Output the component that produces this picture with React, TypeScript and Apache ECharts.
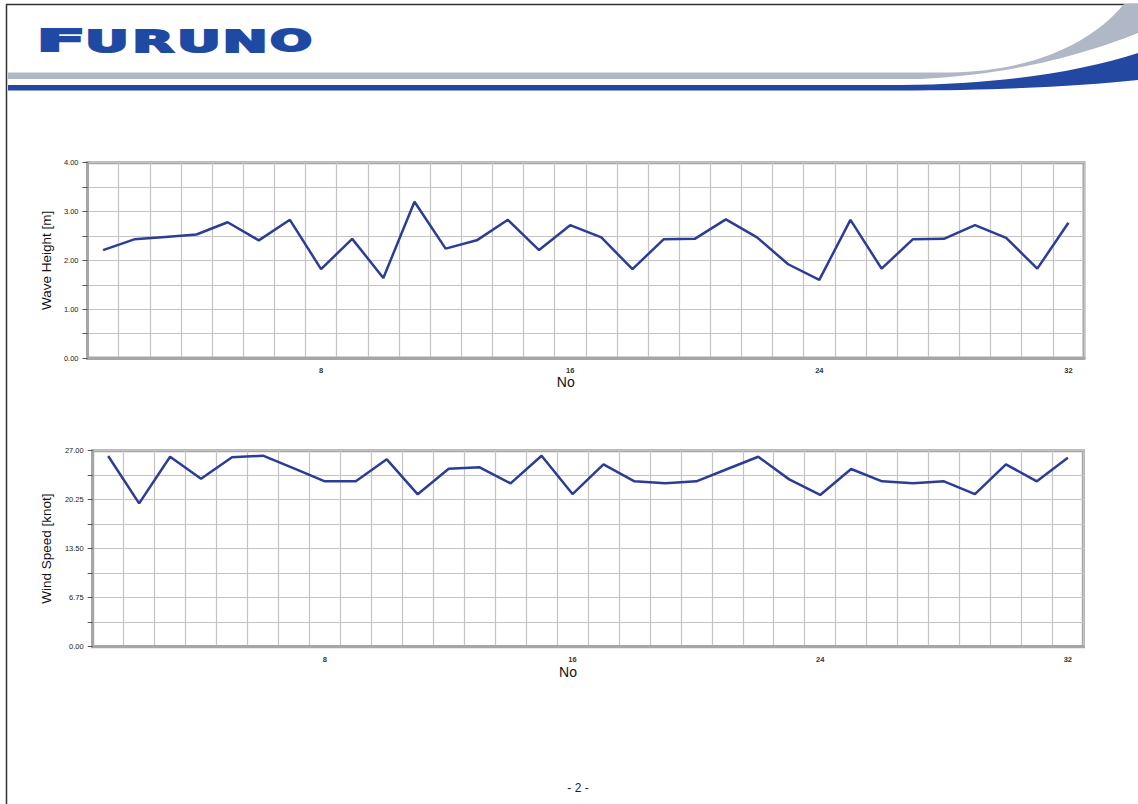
import React, { useEffect, useRef } from "react";
import * as echarts from "echarts";

// ---- data ----
const noCategories = [
  "1", "2", "3", "4", "5", "6", "7", "8", "9", "10", "11", "12", "13", "14", "15", "16",
  "17", "18", "19", "20", "21", "22", "23", "24", "25", "26", "27", "28", "29", "30", "31", "32",
];
const xTickLabels = ["8", "16", "24", "32"];

const waveHeight = [
  2.21, 2.43, 2.48, 2.53, 2.78, 2.41, 2.83, 1.82, 2.44, 1.64, 3.2, 2.24, 2.41, 2.83, 2.21, 2.72,
  2.47, 1.82, 2.43, 2.44, 2.84, 2.47, 1.92, 1.6, 2.83, 1.83, 2.43, 2.44, 2.72, 2.46, 1.83, 2.77,
];
const windSpeed = [
  26.27, 19.75, 26.17, 23.14, 26.09, 26.31, 24.57, 22.78, 22.78, 25.81, 20.99, 24.52, 24.71, 22.5, 26.31, 21.03,
  25.12, 22.78, 22.5, 22.78, 24.48, 26.17, 23.05, 20.9, 24.48, 22.78, 22.5, 22.78, 21.03, 25.12, 22.78, 26.03,
];
const waveTickLabels = ["0.00", "1.00", "2.00", "3.00", "4.00"];
const windTickLabels = ["0.00", "6.75", "13.50", "20.25", "27.00"];

const logoLetters = ["F", "U", "R", "U", "N", "O"];

echarts.graphic.registerShape(
  "swooshGray",
  echarts.graphic.extendPath(
    "M 8 72.5 L 950 72.5 C 1030 71 1090 45 1124 4 L 1138 4 L 1138 33 C 1090 52 1020 74 920 79 L 8 79 Z",
    {}
  )
);
echarts.graphic.registerShape(
  "swooshBlue",
  echarts.graphic.extendPath(
    "M 8 85 L 900 85 C 1000 84 1080 72 1138 53 L 1138 80 C 1080 86 1000 90.5 900 90.5 L 8 90.5 Z",
    {}
  )
);

const FONT = "'Liberation Sans', Arial, sans-serif";
const LINE_COLOR = "#2b3d96";
const GRID_LINE = "#c3c3c3";
const FRAME = "#a6a6a6";

function makeValueAxis(gridIndex: number, max: number, interval: number, labels: string[], name: string, nameGap: number) {
  return {
    type: "value",
    gridIndex,
    min: 0,
    max,
    interval,
    name,
    nameLocation: "middle",
    nameGap,
    nameTextStyle: { fontFamily: FONT, fontSize: 13.5, color: "#111" },
    axisLine: { show: true, lineStyle: { color: FRAME, width: 3 } },
    axisTick: { show: true, length: 5, lineStyle: { color: "#555", width: 1 } },
    axisLabel: {
      margin: 9,
      fontFamily: FONT,
      fontSize: 7.5,
      color: "#222",
      formatter: (_v: number, i: number) => (i % 2 === 0 ? labels[i / 2] : ""),
    },
    splitLine: { show: true, lineStyle: { color: GRID_LINE, width: 1.2 } },
  };
}

function makeCatAxis(gridIndex: number, nameGap: number, labelMargin: number) {
  return {
    type: "category",
    gridIndex,
    data: noCategories,
    boundaryGap: true,
    name: "No",
    nameLocation: "middle",
    nameGap,
    nameTextStyle: { fontFamily: FONT, fontSize: 14, color: "#111", padding: [0, 40, 0, 0] },
    axisLine: { show: true, lineStyle: { color: FRAME, width: 3 } },
    axisTick: { show: false },
    axisLabel: {
      margin: labelMargin,
      fontFamily: FONT,
      fontSize: 7.5,
      fontWeight: "bold",
      color: "#333",
      interval: (_i: number, v: string) => xTickLabels.indexOf(v) >= 0,
    },
    splitLine: { show: true, interval: 0, lineStyle: { color: GRID_LINE, width: 1.2 } },
  };
}

export default function App() {
  const ref = useRef<HTMLDivElement>(null);

  useEffect(() => {
    if (!ref.current) return;
    const chart = echarts.init(ref.current, null, { renderer: "svg" });

    const logoCenters = [61, 107, 153, 199, 245, 291];
    const logoScales = [2.4, 1.8, 1.8, 1.8, 1.8, 1.65];

    const option: any = {
      animation: false,
      backgroundColor: "#ffffff",
      grid: [
        { left: 87.5, top: 162.7, width: 996.5, height: 195.3, show: true, borderColor: FRAME, borderWidth: 3, backgroundColor: "transparent" },
        { left: 92.7, top: 450.7, width: 990.6, height: 196, show: true, borderColor: FRAME, borderWidth: 3, backgroundColor: "transparent" },
      ],
      xAxis: [makeCatAxis(0, 17, 8), makeCatAxis(1, 18, 9)],
      yAxis: [
        makeValueAxis(0, 4, 0.5, waveTickLabels, "Wave Height [m]", 33),
        makeValueAxis(1, 27, 3.375, windTickLabels, "Wind Speed [knot]", 39),
      ],
      series: [
        {
          type: "line",
          name: "Wave Height",
          xAxisIndex: 0,
          yAxisIndex: 0,
          data: waveHeight,
          showSymbol: false,
          symbol: "none",
          lineStyle: { color: LINE_COLOR, width: 2.5 },
          z: 5,
        },
        {
          type: "line",
          name: "Wind Speed",
          xAxisIndex: 1,
          yAxisIndex: 1,
          data: windSpeed,
          showSymbol: false,
          symbol: "none",
          lineStyle: { color: LINE_COLOR, width: 2.5 },
          z: 5,
        },
      ],
      graphic: [
        { type: "line", shape: { x1: 6, y1: 4.5, x2: 1138, y2: 4.5 }, style: { stroke: "#333", lineWidth: 1.5 } },
        { type: "line", shape: { x1: 6.5, y1: 4, x2: 6.5, y2: 804 }, style: { stroke: "#333", lineWidth: 1.5 } },
        { type: "swooshGray", x: 0, y: 0, style: { fill: "#b0b8c7" } },
        { type: "swooshBlue", x: 0, y: 0, style: { fill: "#2248a2" } },
        ...logoLetters.map((ch, i) => ({
          type: "text",
          x: logoCenters[i],
          y: 41,
          scaleX: logoScales[i],
          style: {
            text: ch,
            x: 0,
            y: 0,
            align: "center",
            verticalAlign: "middle",
            font: "bold 30px 'DejaVu Sans'",
            fill: "#1f4aa3",
            stroke: "#1f4aa3",
            lineWidth: 2,
          },
        })),
        {
          type: "text",
          x: 578,
          y: 788,
          style: { text: "- 2 -", align: "center", verticalAlign: "middle", font: `12px ${FONT}`, fill: "#222" },
        },
      ],
    };

    chart.setOption(option);
    return () => chart.dispose();
  }, []);

  return (
    <div
      ref={ref}
      style={{ position: "fixed", left: 0, top: 0, width: 1138, height: 804, background: "#fff" }}
    />
  );
}
